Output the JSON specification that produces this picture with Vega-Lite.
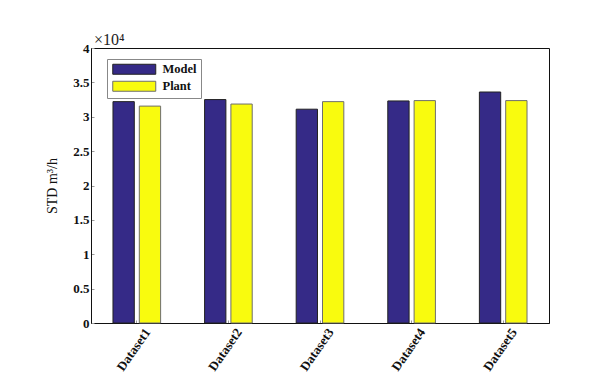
{
  "$schema": "https://vega.github.io/schema/vega-lite/v6.json",
  "width": 458,
  "height": 275,
  "autosize": {"type": "none"},
  "padding": {"left": 91, "top": 48, "right": 43, "bottom": 66},
  "background": "white",
  "title": {
    "text": "×10⁴",
    "anchor": "start",
    "frame": "group",
    "font": "Liberation Serif",
    "fontSize": 16,
    "fontWeight": "normal",
    "color": "#222",
    "offset": -6,
    "dx": 3
  },
  "data": {
    "values": [
      {"dataset": "Dataset1", "series": "Model", "std": 32200},
      {"dataset": "Dataset1", "series": "Plant", "std": 31550},
      {"dataset": "Dataset2", "series": "Model", "std": 32500},
      {"dataset": "Dataset2", "series": "Plant", "std": 31850},
      {"dataset": "Dataset3", "series": "Model", "std": 31100},
      {"dataset": "Dataset3", "series": "Plant", "std": 32200},
      {"dataset": "Dataset4", "series": "Model", "std": 32300},
      {"dataset": "Dataset4", "series": "Plant", "std": 32350},
      {"dataset": "Dataset5", "series": "Model", "std": 33600},
      {"dataset": "Dataset5", "series": "Plant", "std": 32350}
    ]
  },
  "mark": {"type": "bar", "strokeWidth": 1},
  "encoding": {
    "x": {
      "field": "dataset",
      "type": "nominal",
      "scale": {"paddingInner": 0.48, "paddingOuter": 0.24},
      "axis": {
        "title": null,
        "labelAngle": -55,
        "labelAlign": "right",
        "labelBaseline": "top",
        "labelOffset": 6,
        "labelFont": "Liberation Serif",
        "labelFontWeight": "bold",
        "labelFontSize": 13,
        "labelColor": "#111",
        "labelPadding": 6,
        "domainColor": "#111",
        "tickColor": "#999",
        "tickSize": -3
      }
    },
    "xOffset": {
      "field": "series",
      "sort": ["Model", "Plant"],
      "scale": {"paddingInner": 0.19, "paddingOuter": 0}
    },
    "y": {
      "field": "std",
      "type": "quantitative",
      "scale": {"domain": [0, 40000], "nice": false},
      "axis": {
        "values": [0, 5000, 10000, 15000, 20000, 25000, 30000, 35000, 40000],
        "labelExpr": "datum.value / 10000",
        "grid": false,
        "title": "STD m³/h",
        "titleFont": "Liberation Serif",
        "titleFontWeight": "normal",
        "titleFontSize": 14,
        "titleColor": "#111",
        "titlePadding": 13,
        "labelFont": "Liberation Serif",
        "labelFontWeight": "bold",
        "labelFontSize": 13,
        "labelColor": "#111",
        "labelPadding": 5,
        "domainColor": "#111",
        "tickColor": "#999",
        "tickSize": -3
      }
    },
    "color": {
      "field": "series",
      "type": "nominal",
      "scale": {"domain": ["Model", "Plant"], "range": ["#352a87", "#f9fb0e"]},
      "legend": {
        "title": null,
        "orient": "none",
        "legendX": 16,
        "legendY": 11,
        "direction": "vertical",
        "symbolType": "M-4.3,-1H4.3V1H-4.3Z",
        "symbolSize": 100,
        "symbolOffset": 17,
        "symbolStrokeColor": "#222",
        "symbolStrokeWidth": 1,
        "symbolOpacity": 1,
        "labelFont": "Liberation Serif",
        "labelFontWeight": "bold",
        "labelFontSize": 12.5,
        "labelColor": "#111",
        "labelOffset": 22,
        "strokeColor": "#888",
        "fillColor": "white",
        "padding": 4,
        "rowPadding": 2
      }
    },
    "stroke": {
      "field": "series",
      "type": "nominal",
      "scale": {"domain": ["Model", "Plant"], "range": ["#222222", "#6e6e6e"]},
      "legend": null
    }
  },
  "config": {"view": {"stroke": "#111", "strokeWidth": 1}}
}
